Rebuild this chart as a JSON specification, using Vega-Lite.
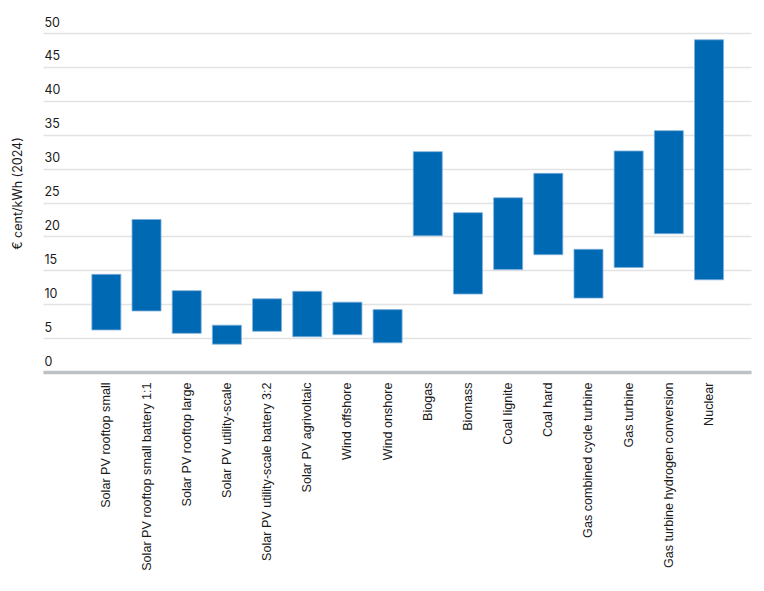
{
  "$schema": "https://vega.github.io/schema/vega-lite/v6.json",
  "autosize": "none",
  "padding": {"left": 43, "top": 33, "right": 13, "bottom": 219},
  "width": 708,
  "height": 339,
  "background": "white",
  "config": {"view": {"stroke": null}},
  "data": {
    "values": [
      {"tech": "Solar PV rooftop small", "low": 6.2, "high": 14.4},
      {"tech": "Solar PV rooftop small battery 1:1", "low": 9.0, "high": 22.5},
      {"tech": "Solar PV rooftop large", "low": 5.7, "high": 12.0},
      {"tech": "Solar PV utility-scale", "low": 4.1, "high": 6.9},
      {"tech": "Solar PV utility-scale battery 3:2", "low": 6.0, "high": 10.8},
      {"tech": "Solar PV agrivoltaic", "low": 5.2, "high": 11.9},
      {"tech": "Wind offshore", "low": 5.5, "high": 10.3},
      {"tech": "Wind onshore", "low": 4.3, "high": 9.2},
      {"tech": "Biogas", "low": 20.1, "high": 32.5},
      {"tech": "Biomass", "low": 11.5, "high": 23.5},
      {"tech": "Coal lignite", "low": 15.1, "high": 25.7},
      {"tech": "Coal hard", "low": 17.3, "high": 29.3},
      {"tech": "Gas combined cycle turbine", "low": 10.9, "high": 18.1},
      {"tech": "Gas turbine", "low": 15.4, "high": 32.6},
      {"tech": "Gas turbine hydrogen conversion", "low": 20.4, "high": 35.6},
      {"tech": "Nuclear", "low": 13.6, "high": 49.0}
    ]
  },
  "mark": {"type": "bar", "color": "#0069b3", "stroke": "#7fb0dc", "strokeWidth": 0.8},
  "encoding": {
    "x": {
      "field": "tech",
      "type": "nominal",
      "sort": null,
      "scale": {"paddingInner": 0.278, "paddingOuter": 0.95, "align": 0.64},
      "axis": {
        "title": null,
        "labelAngle": -90,
        "labelAlign": "right",
        "labelBaseline": "middle",
        "labelPadding": 10,
        "labelFont": "Liberation Sans",
        "labelFontSize": 12.6,
        "labelColor": "#1a1a1a",
        "labelLimit": 300,
        "ticks": false,
        "domainColor": "#bcc1c6",
        "domainWidth": 3.5,
        "grid": false
      }
    },
    "y": {
      "field": "low",
      "type": "quantitative",
      "scale": {"domain": [0, 50], "nice": false},
      "axis": {
        "title": "€ cent/kWh (2024)",
        "titleFont": "Inter",
        "titleFontSize": 12.5,
        "titleFontWeight": "normal",
        "titleColor": "#1a1a1a",
        "titleX": -26,
        "titleY": 160,
        "titleAngle": -90,
        "titleAlign": "center",
        "titleBaseline": "middle",
        "values": [0, 5, 10, 15, 20, 25, 30, 35, 40, 45, 50],
        "labelAlign": "left",
        "labelBaseline": "alphabetic",
        "labelPadding": -1,
        "labelOffset": -7,
        "labelFont": "Inter",
        "labelFontSize": 12.5,
        "labelColor": "#1a1a1a",
        "ticks": false,
        "domain": false,
        "grid": true,
        "gridColor": "#e3e3e3",
        "gridWidth": 1.3
      }
    },
    "y2": {"field": "high"}
  }
}
